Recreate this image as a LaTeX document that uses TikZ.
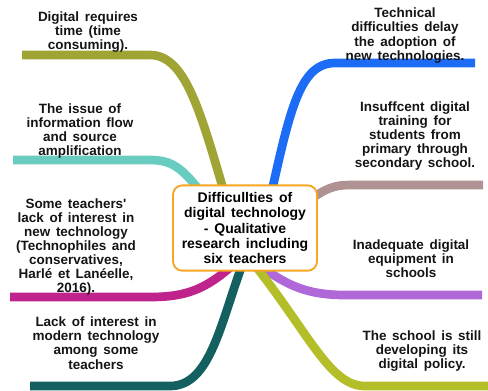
\documentclass[tikz,border=0pt]{standalone}
\usepackage{fontspec}
\setmainfont{Liberation Sans}
\usetikzlibrary{backgrounds}

\definecolor{brOlive}{RGB}{160,164,52}
\definecolor{brAqua}{RGB}{104,204,192}
\definecolor{brBlue}{RGB}{28,108,245}
\definecolor{brMauve}{RGB}{176,146,146}
\definecolor{brViolet}{RGB}{176,104,216}
\definecolor{brLime}{RGB}{180,190,40}
\definecolor{brPine}{RGB}{20,96,96}
\definecolor{brMagenta}{RGB}{190,36,140}
\definecolor{hubOrange}{RGB}{246,166,32}

\newcommand{\wordgap}{\spaceskip=0.42em plus 0.1em\relax}

\tikzset{
  branch/.style={line width=6.5pt,shorten <=-8pt},
  leaf/.style={align=center,inner sep=0.75pt,text=black!92,
    font=\fontsize{10.1}{10.6}\selectfont\bfseries\wordgap},
  hub/.style={draw=hubOrange,line width=1.4pt,fill=white,rounded corners=7pt,
    minimum width=108pt,minimum height=64pt,align=center,inner sep=1pt,
    font=\fontsize{10.5}{11.4}\selectfont\bfseries\wordgap}
}

\begin{document}
\begin{tikzpicture}[x=0.75pt,y=0.75pt,yscale=-1,xscale=1]
\useasboundingbox (0,0) rectangle (488,390);

%Shape: Rounded Rect
\node [hub] (hub) at (245,228) {Difficullties of\\digital technology\\- Qualitative\\research including\\six teachers};

% free ends of the branches
\coordinate (eDig) at (22,55);
\coordinate (eFlow) at (13,160);
\coordinate (eTech) at (475,63);
\coordinate (eTrain) at (483,185);
\coordinate (eEquip) at (482,295);
\coordinate (ePolicy) at (488,386);
\coordinate (eModern) at (30,386);
\coordinate (eSome) at (10,297);

\begin{scope}[on background layer]
%Curve Lines
\draw [branch,brOlive] (hub.118) .. controls (200,110) and (185,55) .. (150,55) -- (eDig);
%Curve Lines
\draw [branch,brAqua] (hub.139) .. controls (182,168) and (172,160) .. (150,160) -- (eFlow);
%Curve Lines
\draw [branch,brBlue] (hub.57) .. controls (290,110) and (300,63) .. (335,63) -- (eTech);
%Curve Lines
\draw [branch,brMauve] (hub.25) .. controls (326,188) and (335,185) .. (350,185) -- (eTrain);
%Curve Lines
\draw [branch,brViolet] (hub.-62) .. controls (288,287) and (310,295) .. (345,295) -- (eEquip);
%Curve Lines
\draw [branch,brLime] (hub.-71) .. controls (310,335) and (330,386) .. (365,386) -- (ePolicy);
%Curve Lines
\draw [branch,brPine] (hub.-97) .. controls (220,325) and (210,386) .. (170,386) -- (eModern);
%Curve Lines
\draw [branch,brMagenta] (hub.-114) .. controls (205,290) and (185,297) .. (150,297) -- (eSome);
\end{scope}

% Text Node
\node [leaf] (tDig) at (88,32) {Digital requires\\time (time\\consuming).};
% Text Node
\node [leaf] (tFlow) at (80,131) {The issue of\\information flow\\and source\\amplification};
% Text Node
\node [leaf] (tTech) at (405,35.5) {Technical\\difficulties delay\\the adoption of\\new technologies.};
% Text Node
\node [leaf] (tTrain) at (415,136) {Insuffcent digital\\training for\\students from\\primary through\\secondary school.};
% Text Node
\node [leaf] (tSome) at (76,247) {Some teachers\textquotesingle\\lack of interest in\\new technology\\(Technophiles and\\conservatives,\\Harlé et Lanéelle,\\2016).};
% Text Node
\node [leaf] (tModern) at (96,343) {Lack of interest in\\modern technology\\among some\\teachers};
% Text Node
\node [leaf] (tEquip) at (411,259) {Inadequate digital\\equipment in\\schools};
% Text Node
\node [leaf] (tPolicy) at (422,351) {The school is still\\developing its\\digital policy.};

\end{tikzpicture}
\end{document}
